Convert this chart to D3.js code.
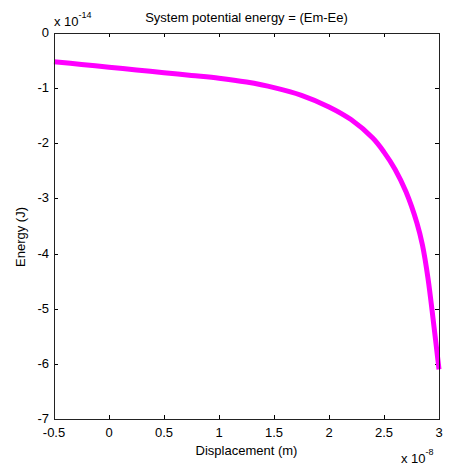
<!DOCTYPE html>
<html>
<head>
<meta charset="utf-8">
<script src="https://cdn.jsdelivr.net/npm/d3@7"></script>
<style>
  body { margin: 0; background: #fff; }
  text { font-family: "Liberation Sans", Arial, sans-serif; fill: #000; }
</style>
</head>
<body>
<div id="chart"></div>
<script>
// displacement (x 1e-8 m) and energy (x 1e-14 J)
var displacement = [-0.5, -0.25, 0, 0.25, 0.5, 0.75, 1.0, 1.25, 1.5, 1.75, 2.0, 2.2, 2.4, 2.5, 2.6, 2.7, 2.8, 2.85, 2.9, 2.95, 3.0];
var energy = [-0.52, -0.57, -0.62, -0.67, -0.72, -0.77, -0.82, -0.89, -0.99, -1.13, -1.34, -1.57, -1.91, -2.16, -2.47, -2.88, -3.45, -3.85, -4.45, -5.25, -6.1];
var xTicks = [-0.5, 0, 0.5, 1, 1.5, 2, 2.5, 3];
var yTicks = [0, -1, -2, -3, -4, -5, -6, -7];

function draw_chart() {
    var width = 455, height = 466;
    var mLeft = 54, mRight = 439, mTop = 33, mBottom = 419;
    var fs = 13;

    var svg = d3.select("#chart").append("svg")
        .attr("width", width)
        .attr("height", height);

    var x = d3.scaleLinear().domain([-0.5, 3]).range([mLeft, mRight]);
    var y = d3.scaleLinear().domain([-7, 0]).range([mBottom, mTop]);

    // ticks inside the box, on all four sides
    var tl = 4;
    var g = svg.append("g").attr("stroke", "#000").attr("stroke-width", 1);
    xTicks.forEach(function(t) {
        var px = Math.round(x(t)) + 0.5;
        g.append("line").attr("x1", px).attr("x2", px).attr("y1", mBottom).attr("y2", mBottom - tl);
        g.append("line").attr("x1", px).attr("x2", px).attr("y1", mTop).attr("y2", mTop + tl);
    });
    yTicks.forEach(function(t) {
        var py = Math.round(y(t)) + 0.5;
        g.append("line").attr("x1", mLeft).attr("x2", mLeft + tl).attr("y1", py).attr("y2", py);
        g.append("line").attr("x1", mRight).attr("x2", mRight - tl).attr("y1", py).attr("y2", py);
    });

    // curve
    var line = d3.line()
        .x(function(d, i) { return x(displacement[i]); })
        .y(function(d) { return y(d); })
        .curve(d3.curveCatmullRom);

    svg.append("path")
        .datum(energy)
        .attr("d", line)
        .attr("fill", "none")
        .attr("stroke", "#ff00ff")
        .attr("stroke-width", 5)
        .attr("stroke-linecap", "butt");

    // box
    svg.append("rect")
        .attr("x", mLeft + 0.5).attr("y", mTop + 0.5)
        .attr("width", mRight - mLeft).attr("height", mBottom - mTop)
        .attr("fill", "none").attr("stroke", "#222").attr("stroke-width", 1);

    // tick labels
    svg.selectAll(".xl").data(xTicks).enter().append("text")
        .attr("x", function(d) { return x(d); })
        .attr("y", 437)
        .attr("text-anchor", "middle")
        .attr("font-size", fs)
        .text(function(d) { return d; });

    svg.selectAll(".yl").data(yTicks).enter().append("text")
        .attr("x", 49)
        .attr("y", function(d) { return y(d) + 4; })
        .attr("text-anchor", "end")
        .attr("font-size", fs)
        .text(function(d) { return d; });

    // title and labels
    svg.append("text")
        .attr("x", (mLeft + mRight) / 2).attr("y", 22)
        .attr("text-anchor", "middle").attr("font-size", fs)
        .text("System potential energy = (Em-Ee)");

    svg.append("text")
        .attr("x", (mLeft + mRight) / 2).attr("y", 455)
        .attr("text-anchor", "middle").attr("font-size", fs)
        .text("Displacement (m)");

    svg.append("text")
        .attr("transform", "translate(25,237) rotate(-90)")
        .attr("text-anchor", "middle").attr("font-size", fs)
        .text("Energy (J)");

    // exponent labels
    var e1 = svg.append("text").attr("x", 54).attr("y", 26).attr("font-size", fs);
    e1.append("tspan").text("x 10");
    e1.append("tspan").attr("dy", -8).attr("font-size", 9).text("-14");

    var e2 = svg.append("text").attr("x", 401).attr("y", 463).attr("font-size", fs);
    e2.append("tspan").text("x 10");
    e2.append("tspan").attr("dy", -8).attr("font-size", 9).text("-8");
}

draw_chart();
</script>
</body>
</html>
